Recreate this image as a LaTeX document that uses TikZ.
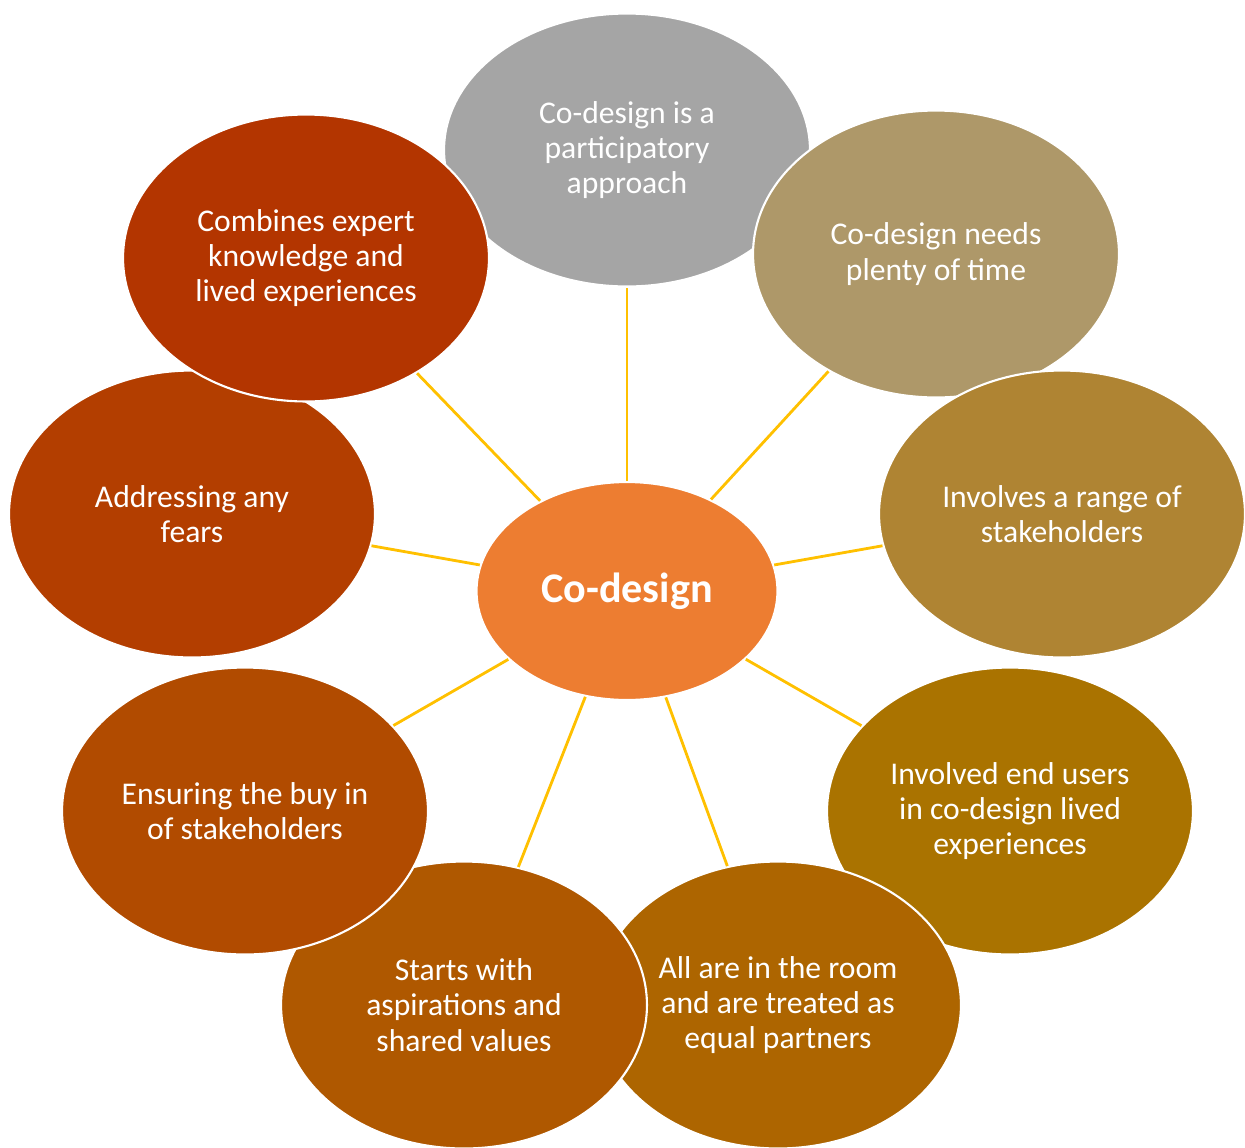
\documentclass[tikz,border=0pt]{standalone}
\usepackage{fontspec}
\setmainfont{Carlito}
\usetikzlibrary{shapes.geometric}

\definecolor{hubor}{HTML}{ED7D31}
\definecolor{linkyel}{HTML}{FFC000}
\definecolor{cgray}{HTML}{A5A5A5}
\definecolor{ctan}{HTML}{AE9869}
\definecolor{cochre}{HTML}{AF8433}
\definecolor{cgold}{HTML}{AA7300}
\definecolor{camber}{HTML}{AD6500}
\definecolor{crust}{HTML}{AF5800}
\definecolor{cbrick}{HTML}{B14B00}
\definecolor{cburnt}{HTML}{B33E00}
\definecolor{cred}{HTML}{B33500}

\begin{document}
\begin{tikzpicture}[
    x=0.02cm, y=-0.02cm,
    bubble/.style={ellipse, draw=white, line width=1.2pt, inner sep=0pt,
        minimum width=7.32cm, minimum height=5.74cm, align=center,
        text=white, font=\fontsize{18}{20}\selectfont},
    hub/.style={ellipse, draw=white, line width=1.2pt, fill=hubor, inner sep=0pt,
        minimum width=6.02cm, minimum height=4.36cm, align=center,
        text=white, font=\fontsize{24}{28}\selectfont\bfseries},
    link/.style={draw=linkyel, line width=1.6pt},
    ]
    \useasboundingbox (0,0) rectangle (1245,1147);

    % Nodes
    \node[bubble, fill=cgray, minimum height=5.46cm] (participatory) at (627,150) {Co-design is a\\participatory\\approach};
    \node[bubble, fill=ctan] (time) at (936,254) {Co-design needs\\plenty of time};
    \node[bubble, fill=cochre] (range) at (1062,514) {Involves a range of\\stakeholders};
    \node[bubble, fill=cgold] (endusers) at (1010,811) {Involved end users\\in co-design lived\\experiences};
    \node[bubble, fill=camber] (room) at (778,1005) {All are in the room\\and are treated as\\equal partners};
    \node[bubble, fill=crust] (aspirations) at (464,1005) {Starts with\\aspirations and\\shared values};
    \node[bubble, fill=cbrick] (buyin) at (245,811) {Ensuring the buy in\\of stakeholders};
    \node[bubble, fill=cburnt] (fears) at (192,514) {Addressing any\\fears};
    \node[bubble, fill=cred] (expert) at (306,258) {Combines expert\\knowledge and\\lived experiences};
    \node[hub] (codesign) at (627,591) {Co-design};

    % Edges
    \foreach \n in {participatory, time, range, endusers, room, aspirations, buyin, fears, expert}
        \draw[link] (codesign) -- (\n);
\end{tikzpicture}
\end{document}
